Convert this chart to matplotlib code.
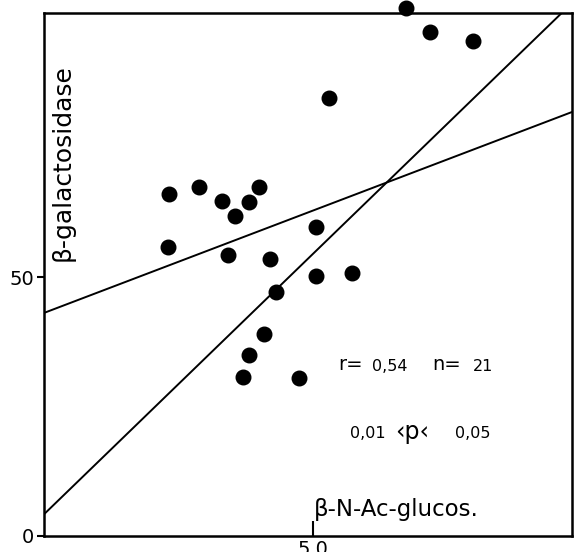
import numpy as np
import matplotlib.pyplot as plt

# beta-N-Ac-glucosaminidase (x) vs beta-galactosidase (y)
glucos = [6.73, 7.19, 7.99, 5.30, 2.32, 2.88, 3.31, 4.00, 3.55, 3.81, 2.30,
          3.42, 5.07, 4.20, 5.74, 5.07, 4.31, 4.09, 3.81, 3.70, 4.74]
galact = [102.1, 97.3, 95.6, 84.7, 66.0, 67.4, 64.7, 67.4, 61.8, 64.5, 55.8,
          54.2, 59.7, 53.5, 50.8, 50.2, 47.1, 39.0, 34.9, 30.7, 30.5]

# two regression lines (intercept, slope)
line_y_on_x = (43.1, 3.95)
line_x_on_y = (4.2, 10.05)

plt.rcParams['font.family'] = 'DejaVu Sans'

fig = plt.figure(figsize=(5.74, 5.52), dpi=100)
ax = fig.add_axes([0.0767, 0.029, 0.92, 0.947])

ax.scatter(glucos, galact, s=110, color='black', zorder=3, clip_on=False)

xs = np.array([0, 9.85])
for b0, b1 in (line_y_on_x, line_x_on_y):
    ax.plot(xs, b0 + b1 * xs, color='black', lw=1.4)

ax.set_xlim(0, 9.83)
ax.set_ylim(0, 101)

for s in ax.spines.values():
    s.set_linewidth(1.8)

ax.set_xticks([5.0])
ax.set_xticklabels(['5,0'], fontsize=14)
ax.set_yticks([0, 50])
ax.set_yticklabels(['0', '50'], fontsize=14)
ax.tick_params(axis='x', direction='in', length=11, width=1.5, pad=3)
ax.tick_params(axis='y', direction='out', length=5, width=1.5, pad=2)

ax.text(0.036, 0.715, 'β-galactosidase', rotation=90, fontsize=18,
        transform=ax.transAxes, ha='center', va='center')
ax.text(0.667, 0.05, 'β-N-Ac-glucos.', fontsize=16.5,
        transform=ax.transAxes, ha='center', va='center')

ax.text(0.557, 0.329, 'r=', fontsize=14, transform=ax.transAxes, va='center')
ax.text(0.621, 0.325, '0,54', fontsize=11.5, transform=ax.transAxes, va='center')
ax.text(0.735, 0.329, 'n=', fontsize=14, transform=ax.transAxes, va='center')
ax.text(0.813, 0.325, '21', fontsize=11.5, transform=ax.transAxes, va='center')

ax.text(0.58, 0.196, '0,01', fontsize=11.5, transform=ax.transAxes, va='center')
ax.text(0.664, 0.198, '‹p‹', fontsize=17, transform=ax.transAxes, va='center')
ax.text(0.778, 0.196, '0,05', fontsize=11.5, transform=ax.transAxes, va='center')

fig.savefig('out.png', dpi=100)
